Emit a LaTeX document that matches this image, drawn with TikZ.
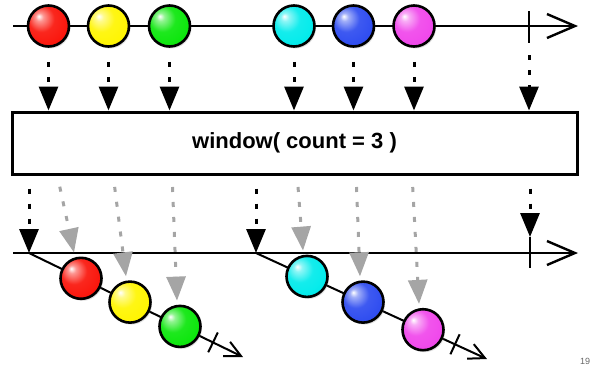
\documentclass[tikz,border=0pt]{standalone}
\usepackage{fontspec}
\setmainfont{Liberation Sans}
\usetikzlibrary{arrows.meta,shadows,calc}
\definecolor{mred}{RGB}{250,20,10}
\definecolor{myellow}{RGB}{255,245,0}
\definecolor{mgreen}{RGB}{10,230,10}
\definecolor{mcyan}{RGB}{0,235,235}
\definecolor{mblue}{RGB}{45,75,240}
\definecolor{mmagenta}{RGB}{240,70,235}
\definecolor{arrgray}{RGB}{165,165,165}
\colorlet{mcol}{red}
\pgfdeclareradialshading[mcol]{marbleshade}{\pgfpoint{-12bp}{12bp}}{%
  color(0bp)=(white);
  color(5bp)=(mcol!45!white);
  color(16bp)=(mcol!92!white);
  color(32bp)=(mcol);
  color(44bp)=(mcol!75!black);
  color(60bp)=(mcol!55!black)}
\begin{document}
\begin{tikzpicture}[x=1pt,y=-1pt,
  marble/.style={circle,draw=black,line width=2.6pt,minimum size=41pt,inner sep=0pt,
    /utils/exec={\colorlet{mcol}{#1}},shading=marbleshade,
    drop shadow={opacity=0.25,shadow xshift=1.5pt,shadow yshift=-2pt}},
  axis/.style={line width=2.4pt,-{Straight Barb[length=28pt,width=24pt,line width=2.4pt]}},
  diagaxis/.style={line width=2pt,-{Straight Barb[length=16pt,width=16pt,line width=2pt]}},
  tickmark/.style={line width=2.4pt},
  diagtick/.style={line width=2pt},
  blackdots/.style={line width=3pt,dash pattern=on 5pt off 10pt,-{Triangle[length=24pt,width=19pt]}},
  graydots/.style={blackdots,color=arrgray},
  opbox/.style={draw=black,fill=white,line width=3pt,minimum width=565pt,minimum height=62pt,inner sep=0pt,
    drop shadow={opacity=0.25,shadow xshift=2pt,shadow yshift=-2pt},
    font=\bfseries\fontsize{22}{26}\selectfont}]
\useasboundingbox (0,0) rectangle (591,365);

% top source line
\coordinate (ts) at (13,26);
\coordinate (te) at (578,26);
\coordinate (tk) at (529,26);
\draw[axis] (ts) -- (te);
\draw[tickmark] ($(tk)+(0,-15)$) coordinate (tkt) -- ($(tk)+(0,17)$) coordinate (tkb);

\node[marble=mred]     (a1) at (48.5,26) {};
\node[marble=myellow]  (a2) at (108.5,26) {};
\node[marble=mgreen]   (a3) at (169.5,26) {};
\node[marble=mcyan]    (a4) at (294,26) {};
\node[marble=mblue]    (a5) at (353.5,26) {};
\node[marble=mmagenta] (a6) at (414,26) {};

% operator box
\node[opbox] (box) at (294.5,143) {window( count = 3 )};

% arrows into the box
\foreach \n in {a1,a2,a3,a4,a5,a6}{
  \draw[blackdots,shorten <=14pt] (\n.south) -- (\n.south |- box.north);
}
\draw[blackdots,shorten <=12pt] (tkb) -- (tkb |- box.north);

% bottom output line
\coordinate (bs) at (13,253);
\coordinate (be) at (578,253);
\coordinate (w1) at (29,253);
\coordinate (w2) at (256,253);
\coordinate (bk) at (530,253);
\draw[axis] (bs) -- (be);
\draw[tickmark] ($(bk)+(0,-16)$) coordinate (bkt) -- ($(bk)+(0,15)$) coordinate (bkb);

% window 1
\coordinate (e1) at (243,357);
\draw[diagaxis] (w1) -- (e1);
\draw[diagtick] (217.8,332.5) -- (208.2,352.3);
\node[marble=mred]    (r1) at (81,278.3) {};
\node[marble=myellow] (r2) at (130,302.1) {};
\node[marble=mgreen]  (r3) at (180,326.4) {};

% window 2
\coordinate (e2) at (487,359);
\draw[diagaxis] (w2) -- (e2);
\draw[diagtick] (459.6,334.3) -- (450.4,354.3);
\node[marble=mcyan]    (q1) at (307,276.4) {};
\node[marble=mblue]    (q2) at (363,302.1) {};
\node[marble=mmagenta] (q3) at (423,329.7) {};

% arrows out of the box
\draw[blackdots,shorten <=13pt] (w1 |- box.south) -- (w1);
\draw[blackdots,shorten <=13pt] (w2 |- box.south) -- (w2);
\draw[blackdots,shorten <=13pt] (bkt |- box.south) -- (bkt);

\draw[graydots,shorten <=13pt] (57,174) coordinate (g1) -- ($(r1.north)+(-7,-4)$);
\draw[graydots,shorten <=13pt] (113,174) coordinate (g2) -- ($(r2.north)+(-4,-4)$);
\draw[graydots,shorten <=13pt] (172,174) coordinate (g3) -- ($(r3.north)+(-3,-4)$);
\draw[graydots,shorten <=13pt] (297,174) coordinate (g4) -- ($(q1.north)+(-4,-4)$);
\draw[graydots,shorten <=13pt] (356,174) coordinate (g5) -- ($(q2.north)+(-3,-4)$);
\draw[graydots,shorten <=13pt] (412,174) coordinate (g6) -- ($(q3.north)+(-4,-4)$);

% page number at the lower right corner
\node[anchor=south west,inner sep=0pt,text=black!60,font=\fontsize{9}{11}\selectfont] (pg) at (580,364.5) {19};
\end{tikzpicture}
\end{document}
